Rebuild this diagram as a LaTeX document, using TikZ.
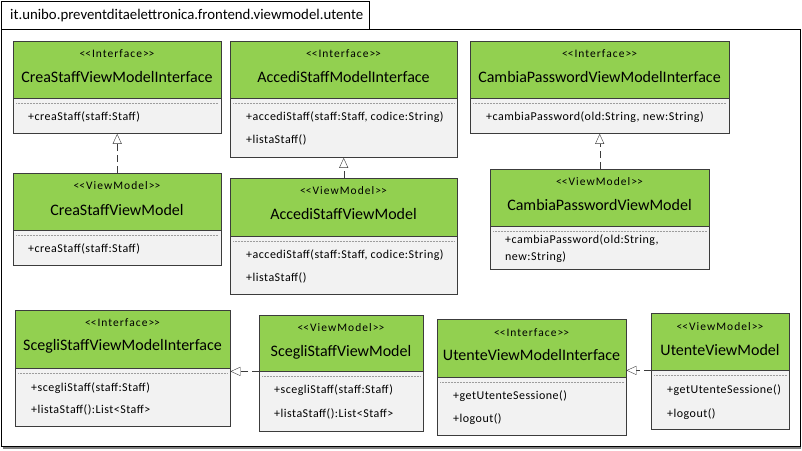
\documentclass[tikz,border=0pt]{standalone}
\usepackage{fontspec}
\setmainfont{Carlito}
\usetikzlibrary{arrows.meta,positioning}

\definecolor{umlgreen}{RGB}{146,208,80}
\definecolor{umlgray}{RGB}{242,242,242}
\definecolor{umlline}{RGB}{60,60,60}

\newcommand{\stereo}[1]{<\kern0pt<#1>\kern0pt>}

\tikzset{
  head/.style={draw=umlline, fill=umlgreen, anchor=north west, inner sep=0pt},
  body/.style={draw=umlline, fill=umlgray, anchor=north west, inner sep=0pt},
  stype/.style={font=\fontsize{11.5}{13}\selectfont\addfontfeature{LetterSpace=9}, inner sep=0pt},
  cname/.style={font=\fontsize{16}{18}\selectfont, inner sep=0pt},
  meth/.style={font=\fontsize{12}{17}\selectfont\addfontfeature{LetterSpace=4}, anchor=west, inner sep=0pt},
  sep/.style={draw=umlline!50, densely dotted, line width=0.5pt},
  realize/.style={draw=umlline, dash pattern=on 7pt off 4pt, -{Triangle[open,fill=white,length=10pt,width=9pt]}}
}

\begin{document}
\begin{tikzpicture}[x=1pt, y=-1pt]
  \useasboundingbox (0,0) rectangle (802,450);

  % package
  \node[draw=black, anchor=north west, inner sep=0pt, minimum width=368pt, minimum height=28pt] at (1,1) (pkgtab) {};
  \node[font=\fontsize{14.8}{16}\selectfont, anchor=west, inner sep=0pt] at (10,15.5) (pkgname) {it.unibo.preventditaelettronica.frontend.viewmodel.utente};
  \draw[gray, line width=2pt] (3,448) -- (801,448);
  \node[draw=black, anchor=north west, inner sep=0pt, minimum width=799pt, minimum height=417pt] at (1,29) (pkg) {};

  % first row: interfaces
  \node[head, minimum width=208pt, minimum height=57pt] at (13,41) (creaI) {};
  \node[body, minimum width=208pt, minimum height=35pt] at (creaI.south west) (creaIb) {};
  \node[stype] at (117,54) (creaIs) {\stereo{Interface}};
  \node[cname] at (117,77.5) (creaIn) {CreaStaffViewModelInterface};
  \node[meth] at (28,117) (creaIm1) {+creaStaff(staff:Staff)};

  \node[head, minimum width=227pt, minimum height=57pt] at (230,41) (accediI) {};
  \node[body, minimum width=227pt, minimum height=59pt] at (accediI.south west) (accediIb) {};
  \node[stype] at (343.5,54) (accediIs) {\stereo{Interface}};
  \node[cname] at (343.5,77.5) (accediIn) {AccediStaffModelInterface};
  \node[meth] at (246,117) (accediIm1) {+accediStaff(staff:Staff, codice:String)};
  \node[meth] at (246,140) (accediIm2) {+listaStaff()};

  \node[head, minimum width=259pt, minimum height=57pt] at (470,41) (cambiaI) {};
  \node[body, minimum width=259pt, minimum height=35pt] at (cambiaI.south west) (cambiaIb) {};
  \node[stype] at (599.5,54) (cambiaIs) {\stereo{Interface}};
  \node[cname] at (599.5,77.5) (cambiaIn) {CambiaPasswordViewModelInterface};
  \node[meth] at (486,117) (cambiaIm1) {+cambiaPassword(old:String, new:String)};

  % first row: view models
  \node[head, minimum width=208pt, minimum height=57pt] at (13,173) (creaVM) {};
  \node[body, minimum width=208pt, minimum height=35pt] at (creaVM.south west) (creaVMb) {};
  \node[stype] at (117,186) (creaVMs) {\stereo{ViewModel}};
  \node[cname] at (117,210) (creaVMn) {CreaStaffViewModel};
  \node[meth] at (28,249) (creaVMm1) {+creaStaff(staff:Staff)};

  \node[head, minimum width=227pt, minimum height=58pt] at (230,178) (accediVM) {};
  \node[body, minimum width=227pt, minimum height=58pt] at (accediVM.south west) (accediVMb) {};
  \node[stype] at (343.5,191) (accediVMs) {\stereo{ViewModel}};
  \node[cname] at (343.5,214) (accediVMn) {AccediStaffViewModel};
  \node[meth] at (246,255) (accediVMm1) {+accediStaff(staff:Staff, codice:String)};
  \node[meth] at (246,278) (accediVMm2) {+listaStaff()};

  \node[head, minimum width=219pt, minimum height=57pt] at (490,169) (cambiaVM) {};
  \node[body, minimum width=219pt, minimum height=43pt] at (cambiaVM.south west) (cambiaVMb) {};
  \node[stype] at (599.5,182) (cambiaVMs) {\stereo{ViewModel}};
  \node[cname] at (599.5,205) (cambiaVMn) {CambiaPasswordViewModel};
  \node[meth, align=left] at (505,248.5) (cambiaVMm1) {+cambiaPassword(old:String,\\new:String)};

  % second row
  \node[head, minimum width=215pt, minimum height=58pt] at (15,310) (scegliI) {};
  \node[body, minimum width=215pt, minimum height=58pt] at (scegliI.south west) (scegliIb) {};
  \node[stype] at (122.5,323) (scegliIs) {\stereo{Interface}};
  \node[cname] at (122.5,346) (scegliIn) {ScegliStaffViewModelInterface};
  \node[meth] at (31,388) (scegliIm1) {+scegliStaff(staff:Staff)};
  \node[meth] at (31,410) (scegliIm2) {+listaStaff():List<Staff>};

  \node[head, minimum width=164pt, minimum height=56pt] at (259,315) (scegliVM) {};
  \node[body, minimum width=164pt, minimum height=60pt] at (scegliVM.south west) (scegliVMb) {};
  \node[stype] at (341,328) (scegliVMs) {\stereo{ViewModel}};
  \node[cname] at (341,352) (scegliVMn) {ScegliStaffViewModel};
  \node[meth] at (274,390) (scegliVMm1) {+scegliStaff(staff:Staff)};
  \node[meth] at (274,414) (scegliVMm2) {+listaStaff():List<Staff>};

  \node[head, minimum width=189pt, minimum height=58pt] at (437,319) (utenteI) {};
  \node[body, minimum width=189pt, minimum height=58pt] at (utenteI.south west) (utenteIb) {};
  \node[stype] at (531.5,333) (utenteIs) {\stereo{Interface}};
  \node[cname] at (531.5,355) (utenteIn) {UtenteViewModelInterface};
  \node[meth] at (453,396) (utenteIm1) {+getUtenteSessione()};
  \node[meth] at (453,419) (utenteIm2) {+logout()};

  \node[head, minimum width=138pt, minimum height=57pt] at (651,313) (utenteVM) {};
  \node[body, minimum width=138pt, minimum height=59pt] at (utenteVM.south west) (utenteVMb) {};
  \node[stype] at (720,327) (utenteVMs) {\stereo{ViewModel}};
  \node[cname] at (720,350) (utenteVMn) {UtenteViewModel};
  \node[meth] at (667,390) (utenteVMm1) {+getUtenteSessione()};
  \node[meth] at (667,414) (utenteVMm2) {+logout()};

  % dotted separators
  \foreach \b in {creaIb,accediIb,cambiaIb,creaVMb,accediVMb,cambiaVMb,scegliIb,scegliVMb,utenteIb,utenteVMb}
    \draw[sep] ([xshift=3pt,yshift=-5pt]\b.north west) -- ([xshift=-3pt,yshift=-5pt]\b.north east);

  % realizations
  \draw[realize] (creaVM.north) -- (creaIb.south);
  \draw[realize] (accediVM.north) -- (accediIb.south);
  \draw[realize] (cambiaVM.north) -- (cambiaIb.south);
  \draw[realize] (scegliVMb.north west) -- (scegliVMb.north west -| scegliIb.east);
  \draw[realize] (utenteVMb.north west) -- (utenteVMb.north west -| utenteIb.east);
\end{tikzpicture}
\end{document}
